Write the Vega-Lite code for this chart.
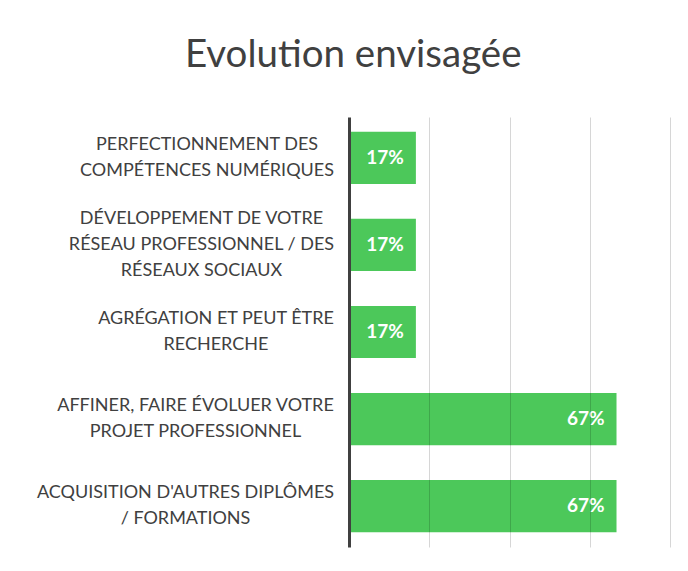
{
  "$schema": "https://vega.github.io/schema/vega-lite/v6.json",
  "width": 321,
  "height": 430,
  "padding": {"left": 36, "top": 35, "right": 19, "bottom": 20},
  "background": "white",
  "title": {
    "text": "Evolution envisagée",
    "anchor": "middle",
    "frame": "bounds",
    "font": "Lato",
    "fontSize": 38.5,
    "fontWeight": "normal",
    "color": "#404040",
    "offset": 42
  },
  "data": {
    "values": [
      {"item": "PERFECTIONNEMENT DES|COMPÉTENCES NUMÉRIQUES", "share": 0.1667},
      {"item": "DÉVELOPPEMENT DE VOTRE|RÉSEAU PROFESSIONNEL / DES|RÉSEAUX SOCIAUX", "share": 0.1667},
      {"item": "AGRÉGATION ET PEUT ÊTRE|RECHERCHE", "share": 0.1667},
      {"item": "AFFINER, FAIRE ÉVOLUER VOTRE|PROJET PROFESSIONNEL", "share": 0.6667},
      {"item": "ACQUISITION D'AUTRES DIPLÔMES|/ FORMATIONS", "share": 0.6667}
    ]
  },
  "encoding": {
    "y": {
      "field": "item",
      "type": "nominal",
      "sort": null,
      "scale": {"paddingInner": 0.4, "paddingOuter": 0.17},
      "axis": {
        "title": null,
        "labelExpr": "split(datum.label, '|')",
        "labelFont": "Lato",
        "labelFontSize": 18,
        "labelColor": "#404040",
        "labelLineHeight": 26,
        "labelAlign": "center",
        "labelPadding": {
          "condition": [
            {"test": "indexof(datum.value, 'PERFECTIONNEMENT') >= 0", "value": 142.5},
            {"test": "indexof(datum.value, 'SOCIAUX') >= 0", "value": 148},
            {"test": "indexof(datum.value, 'AGRÉGATION') >= 0", "value": 133.5},
            {"test": "indexof(datum.value, 'AFFINER') >= 0", "value": 154}
          ],
          "value": 164
        },
        "labelLimit": 400,
        "labelOffset": {"condition": {"test": "indexof(datum.value, 'SOCIAUX') >= 0", "value": -26}, "value": -13},
        "ticks": false,
        "domainColor": "#404040",
        "domainWidth": 3,
        "zindex": 2
      }
    },
    "x": {
      "field": "share",
      "type": "quantitative",
      "scale": {"domain": [0, 0.8], "nice": false},
      "axis": {
        "title": null,
        "labels": false,
        "ticks": false,
        "domain": false,
        "values": [0.2, 0.4, 0.6, 0.8],
        "gridColor": "#000000",
        "gridOpacity": 0.16,
        "gridWidth": 1,
        "zindex": 1
      }
    }
  },
  "layer": [
    {"mark": {"type": "bar", "color": "#4CC85A"}},
    {
      "mark": {"type": "text", "align": "right", "dx": -12, "color": "white", "font": "Lato", "fontSize": 19, "fontWeight": "bold"},
      "encoding": {"text": {"field": "share", "type": "quantitative", "format": ".0%"}}
    }
  ],
  "config": {"view": {"stroke": null}}
}
